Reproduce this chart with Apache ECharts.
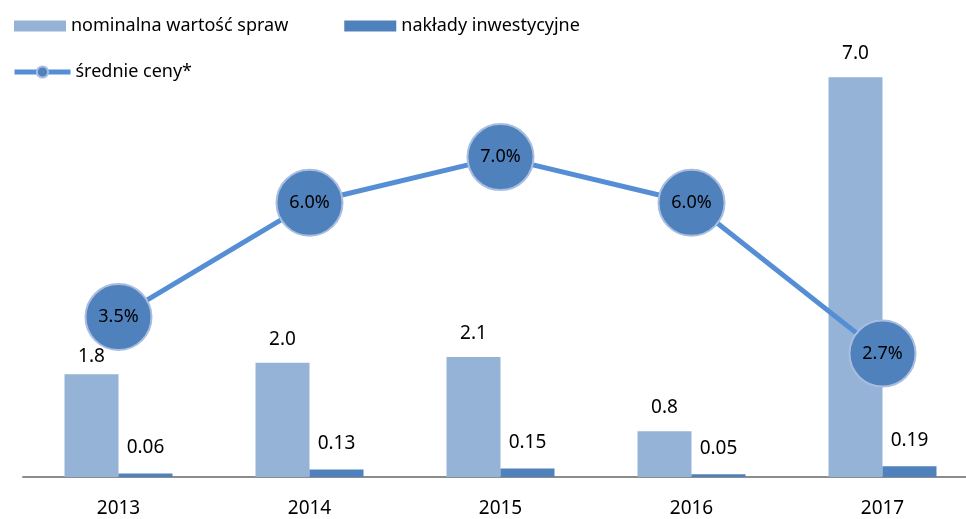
<!DOCTYPE html>
<html>
<head>
<meta charset="utf-8">
<script src="https://cdn.jsdelivr.net/npm/echarts@6/dist/echarts.min.js"></script>
<style>
  html, body { margin: 0; padding: 0; background: #fff; overflow: hidden; }
  #main { width: 1000px; height: 519px; }
</style>
</head>
<body>
<div id="main"></div>
<script>
// dane z wykresu
const years = ["2013", "2014", "2015", "2016", "2017"];
const nominalValue = [1.8, 2.0, 2.1, 0.8, 7.0];
const investments = [0.06, 0.13, 0.15, 0.05, 0.19];
const avgPrices = [3.5, 6.0, 7.0, 6.0, 2.7];

const FONT = "Noto Sans";

let myChart = echarts.init(document.getElementById("main"));
let option = {
  animation: false,
  textStyle: { fontFamily: FONT },
  legend: [
    {
      left: 9,
      top: 12,
      itemWidth: 52,
      itemHeight: 11,
      itemGap: 56,
      icon: "rect",
      textStyle: { fontSize: 18, color: "#000", fontFamily: FONT },
      data: ["nominalna wartość spraw", "nakłady inwestycyjne"]
    },
    {
      left: 7,
      top: 58,
      itemWidth: 56,
      itemHeight: 14,
      textStyle: { fontSize: 18, color: "#000", fontFamily: FONT },
      data: [{ name: "średnie ceny*", lineStyle: { width: 5 } }]
    }
  ],
  // siatka szersza niż okno - ostatnia kategoria jest przycięta jak w oryginale
  grid: { left: 23, top: 20, width: 955, height: 457 },
  xAxis: {
    type: "category",
    data: years,
    axisTick: { show: false },
    axisLine: { lineStyle: { color: "#8c8c8c", width: 2 } },
    axisLabel: { color: "#000", fontSize: 19, margin: 22, fontFamily: FONT }
  },
  yAxis: [
    { type: "value", min: 0, max: 8, show: false },
    { type: "value", min: 0, max: 10, show: false }
  ],
  series: [
    {
      name: "nominalna wartość spraw",
      type: "bar",
      data: nominalValue,
      barWidth: 54,
      barGap: "0%",
      itemStyle: { color: "#95b3d7" },
      label: {
        show: true,
        position: "top",
        distance: 14,
        color: "#000",
        fontSize: 19,
        formatter: p => p.value.toFixed(1)
      },
      // etykieta 1.8 jest w oryginale nieco niżej (zasłania ją znacznik)
      labelLayout: p => (p.dataIndex === 0 ? { dy: 6 } : {})
    },
    {
      name: "nakłady inwestycyjne",
      type: "bar",
      data: investments,
      barWidth: 54,
      itemStyle: { color: "#4f81bd" },
      label: {
        show: true,
        position: "top",
        distance: 16,
        color: "#000",
        fontSize: 19,
        formatter: p => p.value.toFixed(2)
      }
    },
    {
      name: "średnie ceny*",
      type: "line",
      yAxisIndex: 1,
      data: avgPrices,
      symbol: "circle",
      symbolSize: 66,
      lineStyle: { color: "#558ed5", width: 5 },
      itemStyle: { color: "#4f81bd", borderColor: "#a9bde0", borderWidth: 2 },
      label: {
        show: true,
        position: "inside",
        color: "#000",
        fontSize: 18,
        formatter: p => p.value.toFixed(1) + "%"
      },
      z: 5
    }
  ]
};
myChart.setOption(option);
</script>
</body>
</html>
